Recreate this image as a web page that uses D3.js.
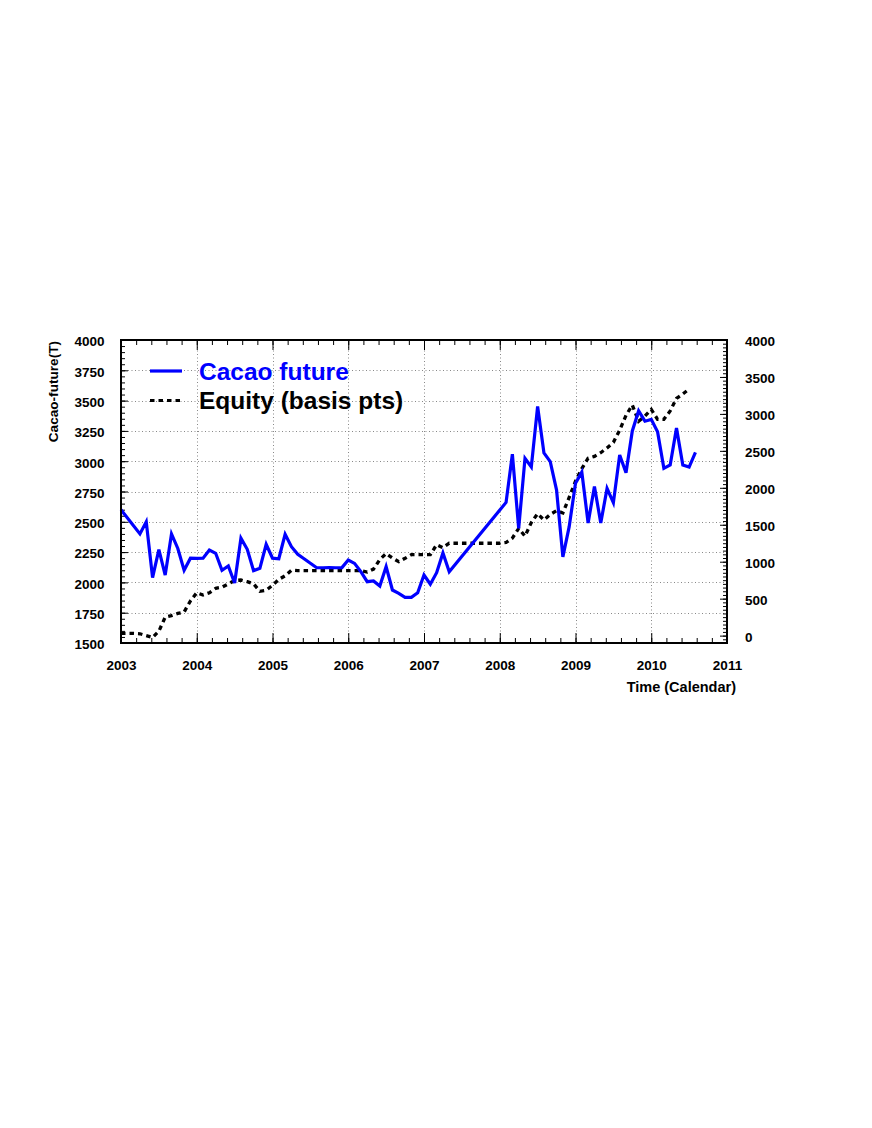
<!DOCTYPE html>
<html>
<head>
<meta charset="utf-8">
<script src="https://cdn.jsdelivr.net/npm/d3@7"></script>
<style>
  html, body { margin: 0; padding: 0; background: #fff; }
  svg { display: block; font-family: "Liberation Sans", Arial, Helvetica, sans-serif; font-weight: bold; }
</style>
</head>
<body>
<script>
'use strict';

// Cacao future (left axis), monthly closes, gaps where the source has no data
var cacaoDates = [
  '2003-01','2003-04','2003-05','2003-06','2003-07','2003-08','2003-09','2003-10','2003-11','2003-12',
  '2004-01','2004-02','2004-03','2004-04','2004-05','2004-06','2004-07','2004-08','2004-09','2004-10','2004-11','2004-12',
  '2005-01','2005-02','2005-03','2005-04','2005-05','2005-06','2005-07','2005-08','2005-09','2005-10','2005-11','2005-12',
  '2006-01','2006-02','2006-03','2006-04','2006-05','2006-06','2006-07','2006-08','2006-09','2006-10','2006-11','2006-12',
  '2007-01','2007-02','2007-03','2007-04','2007-05',
  '2008-02','2008-03','2008-04','2008-05','2008-06','2008-07','2008-08','2008-09','2008-10','2008-11','2008-12',
  '2009-01','2009-02','2009-03','2009-04','2009-05','2009-06','2009-07','2009-08','2009-09','2009-10','2009-11','2009-12',
  '2010-01','2010-02','2010-03','2010-04','2010-05','2010-06','2010-07','2010-08'
];
var cacaoValues = [
  2600, 2400, 2500, 2040, 2270, 2060, 2400, 2280, 2100, 2200,
  2198, 2200, 2267, 2240, 2100, 2135, 1995, 2365, 2273, 2097, 2116, 2314,
  2200, 2195, 2397, 2295, 2232, 2195, 2158, 2121, 2121, 2122, 2121, 2122,
  2185, 2157, 2088, 2006, 2012, 1970, 2130, 1937, 1910, 1877, 1877, 1915,
  2061, 1985, 2080, 2243, 2088,
  2660, 3058, 2445, 3024, 2952, 3452, 3068, 2996, 2762, 2210, 2460,
  2818, 2910, 2490, 2792, 2490, 2775, 2658, 3051, 2905, 3250, 3415, 3330,
  3345, 3243, 2941, 2969, 3273, 2969, 2952, 3072
];

// Equity in basis points (right axis), one value per month from equityStart
var equityStart = '2003-01';
var equityValues = [
  30, 30, 30, 25, 0, -25, 60, 250, 270, 300, 320, 470,
  580, 550, 580, 640, 655, 700, 745, 752, 730, 700, 600, 615,
  680, 760, 810, 885, 880, 880, 880, 880, 880, 880, 880, 880,
  880, 880, 880, 860, 900, 1030, 1110, 1050, 1000, 1046, 1095, 1095,
  1095, 1095, 1230, 1190, 1250, 1250, 1250, 1250, 1250, 1250, 1250, 1250,
  1250, 1260, 1320, 1450, 1345, 1530, 1650, 1565, 1640, 1690, 1660, 1870,
  2090, 2260, 2400, 2425, 2475, 2540, 2615, 2780, 2980, 3120, 2900, 2970,
  3060, 2927, 2927, 3040, 3210, 3270, 3335
];

var yearTicks = [2003, 2004, 2005, 2006, 2007, 2008, 2009, 2010, 2011];
var leftTicks = [1500, 1750, 2000, 2250, 2500, 2750, 3000, 3250, 3500, 3750, 4000];
var rightTicks = [0, 500, 1000, 1500, 2000, 2500, 3000, 3500, 4000];

var legendLabels = ['Cacao future', 'Equity (basis pts)'];
var yTitle = 'Cacao-future(T)';
var xTitle = 'Time (Calendar)';

var width = 872,
    height = 1128;

var frame = { left: 121, right: 727, top: 340, bottom: 643 };

function toYear(s) {
  var parts = s.split('-');
  return +parts[0] + (+parts[1] - 1) / 12;
}

var cacao = cacaoDates.map(function(d, i) {
  return { t: toYear(d), v: cacaoValues[i] };
});
var equity = equityValues.map(function(v, i) {
  return { t: toYear(equityStart) + i / 12, v: v };
});

var x = d3.scaleLinear().domain([2003, 2011]).range([frame.left, frame.right]);
var yLeft = d3.scaleLinear().domain([1500, 4000]).range([frame.bottom, frame.top]);
var yRight = d3.scaleLinear().domain([-100, 4000]).range([frame.bottom, frame.top]);

var svg = d3.select('body').append('svg')
    .attr('width', width)
    .attr('height', height);

svg.append('rect')
    .attr('width', width)
    .attr('height', height)
    .attr('fill', '#fff');

// grid
var grid = svg.append('g')
    .attr('stroke', '#888')
    .attr('stroke-width', 1)
    .attr('stroke-dasharray', '1,2.5');

grid.selectAll('line.gx')
  .data(yearTicks.slice(1, -1))
  .enter().append('line')
    .attr('x1', function(d) { return Math.round(x(d)) + 0.5; })
    .attr('x2', function(d) { return Math.round(x(d)) + 0.5; })
    .attr('y1', frame.top)
    .attr('y2', frame.bottom);

grid.selectAll('line.gy')
  .data(leftTicks.slice(1, -1))
  .enter().append('line')
    .attr('y1', function(d) { return Math.round(yLeft(d)) + 0.5; })
    .attr('y2', function(d) { return Math.round(yLeft(d)) + 0.5; })
    .attr('x1', frame.left)
    .attr('x2', frame.right);

// axes, ticks pointing into the frame
function styleAxis(g) {
  g.select('.domain').remove();
  g.selectAll('line').attr('stroke', '#000').attr('stroke-width', 1);
  g.selectAll('text')
      .attr('fill', '#000')
      .style('font-size', '13.5px')
      .style('font-weight', 'bold');
}

function minorRange(a, b, step) {
  var out = [];
  for (var v = a; v <= b + 1e-9; v += step) out.push(+v.toFixed(4));
  return out;
}

svg.append('g')
    .attr('transform', 'translate(0,' + frame.bottom + ')')
    .call(d3.axisBottom(x).tickValues(minorRange(2003, 2011, 0.2)).tickSizeInner(-5).tickSizeOuter(0).tickFormat(''))
    .call(styleAxis);
svg.append('g')
    .attr('transform', 'translate(0,' + frame.bottom + ')')
    .call(d3.axisBottom(x).tickValues(yearTicks).tickSizeInner(-10).tickSizeOuter(0).tickPadding(17).tickFormat(d3.format('d')))
    .call(styleAxis);

svg.append('g')
    .attr('transform', 'translate(0,' + frame.top + ')')
    .call(d3.axisTop(x).tickValues(minorRange(2003, 2011, 0.2)).tickSizeInner(-5).tickSizeOuter(0).tickFormat(''))
    .call(styleAxis);
svg.append('g')
    .attr('transform', 'translate(0,' + frame.top + ')')
    .call(d3.axisTop(x).tickValues(yearTicks).tickSizeInner(-10).tickSizeOuter(0).tickFormat(''))
    .call(styleAxis);

svg.append('g')
    .attr('transform', 'translate(' + frame.left + ',0)')
    .call(d3.axisLeft(yLeft).tickValues(minorRange(1500, 4000, 50)).tickSizeInner(-4).tickSizeOuter(0).tickFormat(''))
    .call(styleAxis);
svg.append('g')
    .attr('transform', 'translate(' + frame.left + ',0)')
    .call(d3.axisLeft(yLeft).tickValues(leftTicks).tickSizeInner(-7).tickSizeOuter(0).tickPadding(16.5).tickFormat(d3.format('d')))
    .call(styleAxis)
    .selectAll('text').attr('y', 1.5);

svg.append('g')
    .attr('transform', 'translate(' + frame.right + ',0)')
    .call(d3.axisRight(yRight).tickValues(minorRange(-100, 4000, 50)).tickSizeInner(-4).tickSizeOuter(0).tickFormat(''))
    .call(styleAxis);
svg.append('g')
    .attr('transform', 'translate(' + frame.right + ',0)')
    .call(d3.axisRight(yRight).tickValues(rightTicks).tickSizeInner(-7).tickSizeOuter(0).tickPadding(18).tickFormat(d3.format('d')))
    .call(styleAxis)
    .selectAll('text').attr('y', 1.5);

// titles
svg.append('text')
    .attr('transform', 'translate(57.5,' + (frame.top + 1) + ') rotate(-90)')
    .attr('text-anchor', 'end')
    .style('font-size', '13.6px')
    .text(yTitle);

svg.append('text')
    .attr('x', 736)
    .attr('y', 692)
    .attr('text-anchor', 'end')
    .style('font-size', '14.5px')
    .text(xTitle);

// series
var cacaoLine = d3.line()
    .x(function(d) { return x(d.t); })
    .y(function(d) { return yLeft(d.v); });

var equityLine = d3.line()
    .x(function(d) { return x(d.t); })
    .y(function(d) { return yRight(d.v); });

svg.append('path')
    .datum(equity)
    .attr('d', equityLine)
    .attr('fill', 'none')
    .attr('stroke', '#000')
    .attr('stroke-width', 3.3)
    .attr('stroke-dasharray', '4.5,4');

svg.append('path')
    .datum(cacao)
    .attr('d', cacaoLine)
    .attr('fill', 'none')
    .attr('stroke', '#0000ff')
    .attr('stroke-width', 3.2)
    .attr('stroke-linejoin', 'miter');

// frame
svg.append('rect')
    .attr('x', frame.left)
    .attr('y', frame.top)
    .attr('width', frame.right - frame.left)
    .attr('height', frame.bottom - frame.top)
    .attr('fill', 'none')
    .attr('stroke', '#000')
    .attr('stroke-width', 2);

// legend
var legend = svg.append('g');
var legendRows = [
  { label: legendLabels[0], color: '#0000ff', dash: null, y: 371, base: 380 },
  { label: legendLabels[1], color: '#000', dash: '4.5,4', y: 400.5, base: 409 }
];

legend.selectAll('line')
  .data(legendRows)
  .enter().append('line')
    .attr('x1', 150)
    .attr('x2', 182)
    .attr('y1', function(d) { return d.y; })
    .attr('y2', function(d) { return d.y; })
    .attr('stroke', function(d) { return d.color; })
    .attr('stroke-width', 3.2)
    .attr('stroke-dasharray', function(d) { return d.dash; });

legend.selectAll('text')
  .data(legendRows)
  .enter().append('text')
    .attr('x', 199)
    .attr('y', function(d) { return d.base; })
    .attr('fill', function(d) { return d.color; })
    .style('font-size', '24.5px')
    .text(function(d) { return d.label; });
</script>
</body>
</html>
